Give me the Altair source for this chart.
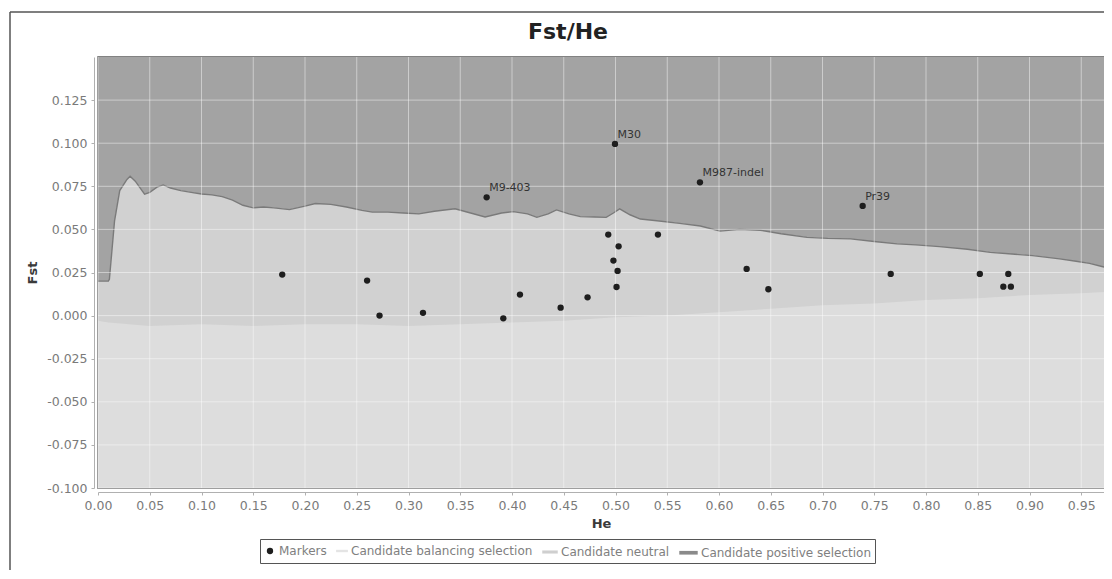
import altair as alt
import pandas as pd

# ---- data ----
he_upper = [0.000, 0.010, 0.011, 0.016, 0.021, 0.028, 0.031, 0.036, 0.045, 0.050, 0.057, 0.063,
            0.070, 0.080, 0.090, 0.100, 0.110, 0.120, 0.130, 0.140, 0.150, 0.160, 0.170, 0.185,
            0.200, 0.210, 0.225, 0.240, 0.255, 0.265, 0.280, 0.295, 0.310, 0.325, 0.345, 0.360,
            0.374, 0.390, 0.401, 0.415, 0.424, 0.435, 0.443, 0.455, 0.466, 0.480, 0.491, 0.498,
            0.504, 0.514, 0.524, 0.540, 0.562, 0.582, 0.601, 0.620, 0.640, 0.660, 0.685, 0.705,
            0.727, 0.750, 0.772, 0.790, 0.813, 0.840, 0.862, 0.883, 0.903, 0.929, 0.945, 0.958,
            0.970, 0.980]
fst_upper = [0.0200, 0.0200, 0.0210, 0.0550, 0.0725, 0.0790, 0.0808, 0.0780, 0.0705, 0.0715, 0.0745, 0.0758,
             0.0740, 0.0725, 0.0715, 0.0705, 0.0700, 0.0690, 0.0670, 0.0640, 0.0625, 0.0630, 0.0625, 0.0615,
             0.0635, 0.0650, 0.0645, 0.0630, 0.0610, 0.0600, 0.0600, 0.0595, 0.0590, 0.0605, 0.0620, 0.0595,
             0.0572, 0.0595, 0.0603, 0.0590, 0.0570, 0.0590, 0.0613, 0.0590, 0.0574, 0.0572, 0.0570, 0.0595,
             0.0619, 0.0585, 0.0560, 0.0550, 0.0535, 0.0520, 0.0490, 0.0500, 0.0495, 0.0475, 0.0454, 0.0448,
             0.0445, 0.0430, 0.0416, 0.0410, 0.0400, 0.0385, 0.0367, 0.0357, 0.0348, 0.0329, 0.0315, 0.0303,
             0.0285, 0.0270]

he_lower = [0.00, 0.01, 0.05, 0.10, 0.15, 0.20, 0.25, 0.30, 0.35, 0.40, 0.45, 0.50, 0.55,
            0.60, 0.65, 0.70, 0.75, 0.80, 0.85, 0.90, 0.95, 0.98]
fst_lower = [-0.003, -0.004, -0.006, -0.005, -0.006, -0.005, -0.005, -0.006, -0.005, -0.004, -0.003,
             -0.001, 0.000, 0.002, 0.004, 0.006, 0.007, 0.009, 0.010, 0.012, 0.013, 0.014]

he_markers = [0.178, 0.260, 0.272, 0.314, 0.3755, 0.3916, 0.4077, 0.447, 0.473, 0.493, 0.4995,
              0.503, 0.498, 0.502, 0.501, 0.541, 0.5816, 0.6267, 0.6477, 0.7388, 0.7659, 0.852,
              0.8795, 0.8747, 0.882]
fst_markers = [0.0238, 0.0203, 0.0000, 0.0016, 0.0686, -0.0016, 0.0122, 0.0046, 0.0106, 0.0470, 0.0996,
               0.0402, 0.0319, 0.0259, 0.0166, 0.0470, 0.0773, 0.0271, 0.0153, 0.0636, 0.0242, 0.0242,
               0.0242, 0.0168, 0.0168]
marker_labels = ["", "", "", "", "M9-403", "", "", "", "", "", "M30",
                 "", "", "", "", "", "M987-indel", "", "", "Pr39", "", "",
                 "", "", ""]

x_ticks = [0.00, 0.05, 0.10, 0.15, 0.20, 0.25, 0.30, 0.35, 0.40, 0.45, 0.50, 0.55, 0.60,
           0.65, 0.70, 0.75, 0.80, 0.85, 0.90, 0.95]
y_ticks = [-0.100, -0.075, -0.050, -0.025, 0.000, 0.025, 0.050, 0.075, 0.100, 0.125]

series_names = ["Markers", "Candidate balancing selection", "Candidate neutral",
                "Candidate positive selection"]
series_colors = ["#1e1e1e", "#e4e4e4", "#cfcfcf", "#8a8a8a"]
swatch = "M-1,-0.2L1,-0.2L1,0.2L-1,0.2Z"
series_shapes = ["circle", swatch, swatch, swatch]
series_sizes = [40, 340, 340, 340]

# ---- tables ----
upper_df = pd.DataFrame({"He": he_upper, "Fst": fst_upper})
lower_df = pd.DataFrame({"He": he_lower, "Fst": fst_lower})
markers_df = pd.DataFrame({"He": he_markers, "Fst": fst_markers, "label": marker_labels,
                           "series": ["Markers"] * len(he_markers)})
xt_df = pd.DataFrame({"He": x_ticks})
yt_df = pd.DataFrame({"Fst": y_ticks})

W, H = 1006, 431
xscale = alt.Scale(domain=[0, 1006 / 1035], nice=False, zero=False)
yscale = alt.Scale(domain=[-0.1, 0.15], nice=False, zero=False)
xaxis = alt.Axis(values=x_ticks, format=".2f", labelFlush=False, title="He", titlePadding=6)
yaxis = alt.Axis(values=y_ticks, title="Fst", titlePadding=7,
                 labelExpr="(datum.value < -0.0001 ? '-' : '') + format(abs(datum.value), '.3f')")

positive = alt.Chart(upper_df).mark_area(color="#a3a3a3", clip=True).encode(
    x=alt.X("He:Q", scale=xscale, axis=xaxis),
    y=alt.Y("Fst:Q", scale=yscale, axis=yaxis),
    y2=alt.datum(0.15),
)
neutral = alt.Chart(upper_df).mark_area(color="#d1d1d1", clip=True).encode(
    x="He:Q", y="Fst:Q", y2=alt.datum(-0.1)
)
balancing = alt.Chart(lower_df).mark_area(color="#dddddd", clip=True).encode(
    x="He:Q", y="Fst:Q", y2=alt.datum(-0.1)
)
boundary = alt.Chart(upper_df).mark_line(color="#7a7a7a", strokeWidth=1.4, clip=True).encode(
    x="He:Q", y="Fst:Q"
)
vgrid = alt.Chart(xt_df).mark_rule(color="#ffffff", opacity=0.45, strokeWidth=1).encode(x="He:Q")
hgrid = alt.Chart(yt_df).mark_rule(color="#ffffff", opacity=0.45, strokeWidth=1).encode(y="Fst:Q")

legend = alt.Legend(title=None, orient="none", legendX=162, legendY=482, direction="horizontal",
                    strokeColor="#555555", fillColor="#ffffff", padding=4, labelFont="DejaVu Sans",
                    labelFontSize=12, labelColor="#808080", columnPadding=9, labelOffset=3,
                    symbolStrokeWidth=0, labelLimit=0)
points = alt.Chart(markers_df).mark_point(filled=True, opacity=1).encode(
    x="He:Q", y="Fst:Q",
    color=alt.Color("series:N", scale=alt.Scale(domain=series_names, range=series_colors), legend=legend),
    shape=alt.Shape("series:N", scale=alt.Scale(domain=series_names, range=series_shapes), legend=legend),
    size=alt.Size("series:N", scale=alt.Scale(domain=series_names, range=series_sizes), legend=legend),
)
labels = alt.Chart(markers_df).transform_filter("datum.label != ''").mark_text(
    align="left", baseline="alphabetic", dx=2.5, dy=-6, font="DejaVu Sans", fontSize=11, color="#333333"
).encode(x="He:Q", y="Fst:Q", text="label:N")

frame_df = pd.DataFrame({"a": [0]})
frame_left = alt.Chart(frame_df).mark_rule(color="#555555", strokeWidth=1.5).encode(
    x=alt.value(-88), y=alt.value(-45), y2=alt.value(H + 120)
)
frame_top = alt.Chart(frame_df).mark_rule(color="#555555", strokeWidth=1.5).encode(
    x=alt.value(-88), x2=alt.value(W + 40), y=alt.value(-45)
)

chart = alt.layer(
    positive, neutral, balancing, boundary, vgrid, hgrid, points, labels, frame_left, frame_top
).properties(
    width=W, height=H,
    title=alt.Title("Fst/He", font="DejaVu Sans", fontSize=22, fontWeight="bold", color="#222222",
                    anchor="middle", frame="group", dx=-33, offset=-49.5, baseline="alphabetic"),
    autosize=alt.AutoSizeParams(type="none"),
    padding={"left": 90, "top": 49, "right": 0, "bottom": 82},
).configure_axis(
    labelFont="DejaVu Sans", labelFontSize=12.5, labelColor="#7a7a7a",
    titleFont="DejaVu Sans", titleFontSize=13, titleFontWeight="bold", titleColor="#3a3a3a",
    domainColor="#b0b0b0", tickColor="#b0b0b0", tickSize=3, offset=4, grid=False, labelPadding=4,
).configure_view(
    stroke="#5a5a5a", strokeWidth=1.5
)

chart.save("out.html", embed_options={"renderer": "svg", "actions": False})
